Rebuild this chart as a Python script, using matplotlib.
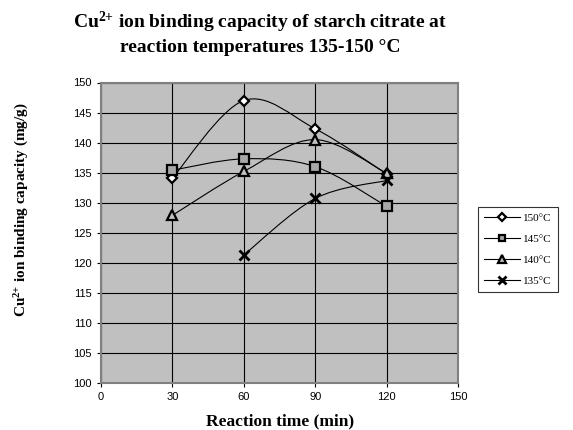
import numpy as np
import matplotlib
matplotlib.use("Agg")
import matplotlib.pyplot as plt
from matplotlib.path import Path
from matplotlib.patches import PathPatch
from matplotlib.lines import Line2D

plt.rcParams['mathtext.fontset'] = 'custom'
plt.rcParams['mathtext.rm'] = 'Liberation Serif:bold'
plt.rcParams['mathtext.it'] = 'Liberation Serif:bold'
plt.rcParams['mathtext.bf'] = 'Liberation Serif:bold'
plt.rcParams['mathtext.default'] = 'rm'

times = [30, 60, 90, 120]
t150 = [134.1, 147.0, 142.3, 134.8]
t145 = [135.4, 137.3, 136.0, 129.4]
t140 = [127.9, 135.2, 140.5, 134.9]
x135 = [60, 90, 120]
t135 = [121.3, 130.7, 133.7]

series = [
    ("150°C", times, t150, 'D', 'white', 5.5),
    ("145°C", times, t145, 's', '#a8a8a8', 6.5),
    ("140°C", times, t140, '^', '#c0c0c0', 7),
    ("135°C", x135, t135, 'x', 'black', 7),
]

fig = plt.figure(figsize=(5.73, 4.30), dpi=100)
ax = fig.add_axes([101/573, 1-383/430, (458-101)/573, (383-82.5)/430])
ax.set_facecolor('#c0c0c0')
ax.set_xlim(0, 150)
ax.set_ylim(100, 150)
ax.set_xticks([0, 30, 60, 90, 120, 150])
ax.set_yticks(np.arange(100, 151, 5))
ax.grid(True, color='black', linewidth=0.8)
ax.set_axisbelow(True)
for s in ax.spines.values():
    s.set_color('#808080')
    s.set_linewidth(1.5)
ax.tick_params(labelsize=8, length=3, color='black', width=0.8)
for lab in ax.get_xticklabels() + ax.get_yticklabels():
    lab.set_family('Liberation Sans')


def smooth_path(x, y):
    # Catmull-Rom style smoothing rendered as cubic Bezier segments
    x = np.asarray(x, float); y = np.asarray(y, float)
    n = len(x)
    verts = [(x[0], y[0])]
    codes = [Path.MOVETO]
    t = 1.0 / 6.0
    for i in range(n - 1):
        p0 = (x[i-1], y[i-1]) if i > 0 else (x[i], y[i])
        p1 = (x[i], y[i]); p2 = (x[i+1], y[i+1])
        p3 = (x[i+2], y[i+2]) if i + 2 < n else (x[i+1], y[i+1])
        c1 = (p1[0] + (p2[0]-p0[0])*t, p1[1] + (p2[1]-p0[1])*t)
        c2 = (p2[0] - (p3[0]-p1[0])*t, p2[1] - (p3[1]-p1[1])*t)
        verts += [c1, c2, p2]
        codes += [Path.CURVE4]*3
    return Path(verts, codes)

handles = []
for label, xs, ys, mk, fc, ms in series:
    ax.add_patch(PathPatch(smooth_path(xs, ys), facecolor='none', edgecolor='black', lw=0.8, zorder=3))
    if mk == 'x':
        ax.plot(xs, ys, linestyle='none', marker='x', ms=ms, mew=2, color='black', zorder=4)
    else:
        ax.plot(xs, ys, linestyle='none', marker=mk, ms=ms, mfc=fc, mec='black', mew=1.6, zorder=4)
    h = Line2D([], [], color='black', lw=0.8, marker=mk, ms=ms*0.75,
               mfc=fc if mk != 'x' else 'black', mec='black', mew=1.6 if mk != 'x' else 2)
    handles.append((h, label))

leg = fig.legend([h for h, _ in handles], [l for _, l in handles],
                 loc='upper left', bbox_to_anchor=(472/573, 1-201/430),
                 prop={'family': 'Liberation Serif', 'size': 8},
                 frameon=True, fancybox=False, edgecolor='black',
                 handlelength=3.2, borderpad=0.6, labelspacing=1.0, handletextpad=0.3)
leg.get_frame().set_linewidth(0.8)

fig.text(260/573, 1-22/430, "Cu$^{2{+}}$ ion binding capacity of starch citrate at",
         ha='center', va='center', family='Liberation Serif', weight='bold', size=14)
fig.text(260/573, 1-48/430, "reaction temperatures 135-150 °C",
         ha='center', va='center', family='Liberation Serif', weight='bold', size=14)
fig.text(280/573, 1-421/430, "Reaction time (min)", ha='center', va='center',
         family='Liberation Serif', weight='bold', size=12.5)
fig.text(22/573, 1-210/430, "Cu$^{2{+}}$ ion binding capacity (mg/g)", ha='center', va='center',
         rotation=90, family='Liberation Serif', weight='bold', size=11)

fig.savefig("out.png", dpi=100)
